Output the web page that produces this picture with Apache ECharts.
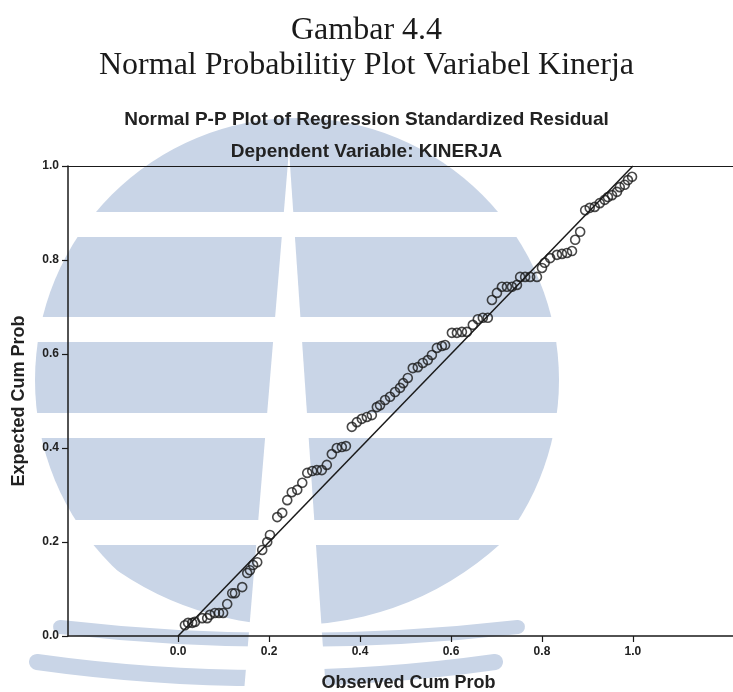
<!DOCTYPE html>
<html>
<head>
<meta charset="utf-8">
<script src="https://cdn.jsdelivr.net/npm/echarts@6/dist/echarts.min.js"></script>
<style>
  html, body { margin: 0; padding: 0; background: #fff; }
  #chart { width: 733px; height: 692px; }
</style>
</head>
<body>
<div id="chart"></div>
<script>
// observed cum prob (x) and expected cum prob (y)
var obsProb = [0.015,0.022,0.031,0.037,0.053,0.064,0.070,0.081,0.090,0.099,
  0.108,0.119,0.125,0.141,0.152,0.158,0.165,0.174,0.185,0.196,
  0.202,0.218,0.229,0.240,0.250,0.262,0.273,0.284,0.295,0.305,
  0.316,0.327,0.338,0.349,0.360,0.369,0.382,0.393,0.404,0.415,
  0.426,0.437,0.444,0.455,0.466,0.477,0.488,0.495,0.505,0.516,
  0.527,0.538,0.549,0.558,0.569,0.580,0.587,0.602,0.613,0.624,
  0.635,0.648,0.659,0.670,0.681,0.690,0.701,0.712,0.723,0.734,
  0.745,0.752,0.763,0.774,0.789,0.800,0.806,0.818,0.833,0.844,
  0.855,0.866,0.873,0.884,0.895,0.905,0.916,0.927,0.938,0.945,
  0.954,0.965,0.971,0.982,0.989,0.998];
var expProb = [0.023,0.028,0.028,0.030,0.038,0.038,0.045,0.049,0.049,0.049,
  0.068,0.091,0.091,0.104,0.134,0.140,0.151,0.157,0.183,0.200,
  0.215,0.253,0.262,0.289,0.306,0.311,0.326,0.347,0.351,0.353,
  0.353,0.364,0.387,0.400,0.402,0.404,0.445,0.455,0.462,0.466,
  0.470,0.487,0.491,0.502,0.509,0.519,0.528,0.538,0.549,0.570,
  0.572,0.581,0.587,0.598,0.613,0.617,0.619,0.645,0.645,0.647,
  0.647,0.662,0.674,0.677,0.677,0.715,0.730,0.743,0.743,0.743,
  0.747,0.764,0.764,0.764,0.764,0.783,0.794,0.804,0.811,0.813,
  0.815,0.819,0.843,0.860,0.906,0.911,0.913,0.921,0.928,0.934,
  0.938,0.945,0.955,0.960,0.970,0.977];
var refLine = [[0, 0], [1, 1]];
var tickValues = [0, 0.2, 0.4, 0.6, 0.8, 1.0];

var chart = echarts.init(document.getElementById('chart'));

var points = obsProb.map(function (x, i) { return [x, expProb[i]]; });

// pale logo watermark behind the plot (decoration only)
var wm = '#c9d5e7';
var watermark = [
  {type: 'circle', shape: {cx: 297, cy: 380, r: 262}, style: {fill: wm}},
  {type: 'rect', shape: {x: 0, y: 212, width: 733, height: 25}, style: {fill: '#fff'}},
  {type: 'rect', shape: {x: 0, y: 317, width: 733, height: 25}, style: {fill: '#fff'}},
  {type: 'rect', shape: {x: 0, y: 413, width: 733, height: 25}, style: {fill: '#fff'}},
  {type: 'rect', shape: {x: 0, y: 520, width: 733, height: 25}, style: {fill: '#fff'}},
  {type: 'arc', shape: {cx: 292, cy: 317, r: 368, startAngle: 0.55, endAngle: Math.PI - 0.55},
    style: {stroke: '#fff', lineWidth: 120, fill: null}},
  {type: 'arc', shape: {cx: 289, cy: -1383, r: 2023, startAngle: Math.PI / 2 - 0.1134, endAngle: Math.PI / 2 + 0.1134},
    style: {stroke: wm, lineWidth: 14, fill: null, lineCap: 'round'}},
  {type: 'arc', shape: {cx: 266, cy: -969, r: 1647, startAngle: Math.PI / 2 - 0.1395, endAngle: Math.PI / 2 + 0.1395},
    style: {stroke: wm, lineWidth: 16, fill: null, lineCap: 'round'}},
  {type: 'polygon', shape: {points: [[289, 150], [244, 692], [326, 692]]}, style: {fill: '#fff'}}
].map(function (el) {
  el.z = -10;
  el.silent = true;
  return el;
});

var serif = '"Liberation Serif", "Times New Roman", serif';
var sans = '"Liberation Sans", Arial, sans-serif';
var ink = '#1a1a1a';

var option = {
  backgroundColor: '#fff',
  animation: false,
  graphic: {elements: watermark},
  title: [{
    text: 'Gambar 4.4',
    left: 'center',
    top: 10,
    textStyle: {fontFamily: serif, fontSize: 32, fontWeight: 'normal', color: ink}
  }, {
    text: 'Normal Probabilitiy Plot Variabel Kinerja',
    left: 'center',
    top: 45,
    textStyle: {fontFamily: serif, fontSize: 32, fontWeight: 'normal', color: ink}
  }, {
    text: 'Normal P-P Plot of Regression Standardized Residual',
    left: 'center',
    top: 105,
    textStyle: {fontFamily: sans, fontSize: 19, fontWeight: 'bold', color: '#222'}
  }, {
    text: 'Dependent Variable: KINERJA',
    left: 'center',
    top: 137,
    textStyle: {fontFamily: sans, fontSize: 19, fontWeight: 'bold', color: '#222'}
  }],
  grid: {left: 68, right: 0, top: 166, bottom: 56, containLabel: false, outerBoundsMode: 'none'},
  xAxis: [{
    type: 'value',
    min: -0.242,
    max: 1.22,
    splitLine: {show: false},
    axisLine: {lineStyle: {color: ink, width: 1.5}},
    axisTick: {customValues: tickValues, length: 6, lineStyle: {color: ink, width: 1.2}},
    axisLabel: {
      customValues: tickValues,
      margin: 10,
      fontFamily: sans, fontSize: 12, fontWeight: 'bold', color: '#222',
      formatter: function (v) { return v.toFixed(1); }
    },
    name: 'Observed Cum Prob',
    nameLocation: 'middle',
    nameGap: 38,
    nameTextStyle: {fontFamily: sans, fontSize: 18, fontWeight: 'bold', color: '#222', padding: [0, 0, 0, 16]}
  }, {
    type: 'value',
    position: 'top',
    min: -0.242,
    max: 1.22,
    splitLine: {show: false},
    axisTick: {show: false},
    axisLabel: {show: false},
    axisLine: {lineStyle: {color: ink, width: 1.2}}
  }],
  yAxis: {
    type: 'value',
    min: 0,
    max: 1,
    interval: 0.2,
    splitLine: {show: false},
    axisLine: {show: true, onZero: false, lineStyle: {color: ink, width: 1.5}},
    axisTick: {show: true, length: 6, lineStyle: {color: ink, width: 1.2}},
    axisLabel: {
      margin: 9,
      fontFamily: sans, fontSize: 12, fontWeight: 'bold', color: '#222',
      formatter: function (v) { return v.toFixed(1); }
    },
    name: 'Expected Cum Prob',
    nameLocation: 'middle',
    nameGap: 40,
    nameTextStyle: {fontFamily: sans, fontSize: 18, fontWeight: 'bold', color: '#222'}
  },
  series: [{
    type: 'line',
    data: refLine,
    symbol: 'none',
    silent: true,
    lineStyle: {color: ink, width: 1.5},
    z: 3
  }, {
    type: 'scatter',
    data: points,
    symbol: 'circle',
    symbolSize: 9,
    itemStyle: {color: 'rgba(255,255,255,0)', borderColor: ink, borderWidth: 1.6},
    z: 4
  }]
};

chart.setOption(option);
</script>
</body>
</html>
